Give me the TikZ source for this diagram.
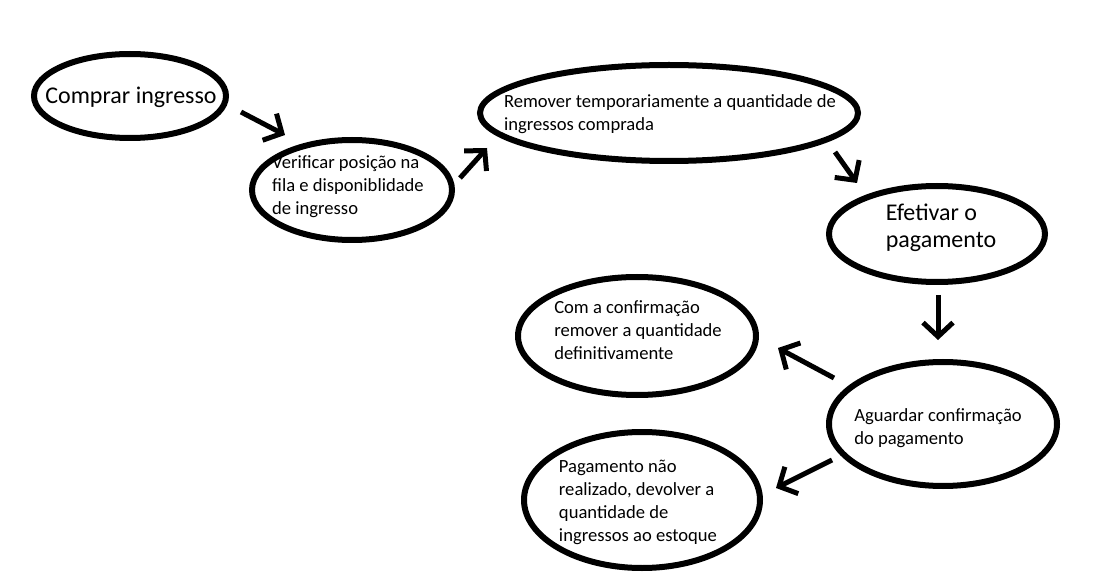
\documentclass[tikz,border=0pt]{standalone}
\usepackage{fontspec}
\setmainfont{Carlito}
\usetikzlibrary{shapes,arrows.meta,positioning,calc}

\begin{document}
\begin{tikzpicture}[x=1pt,y=-1pt,
        etapa/.style={draw, ellipse, line width=6pt, inner sep=0pt},
        texto/.style={align=left, inner sep=0pt, font=\fontsize{18.6}{23}\selectfont},
        grande/.style={align=left, inner sep=0pt, font=\fontsize{24}{27}\selectfont},
        seta/.style={line width=5pt, -{Straight Barb[length=14pt,width=30pt]}}]
        \useasboundingbox (0,0) rectangle (1104,588);

        % Etapas
        \node[etapa, minimum width=192pt, minimum height=84pt] (comprar) at (130,96) {};
        \node[grande] (comprar-t) at (131,97) {Comprar ingresso};

        \node[etapa, minimum width=200pt, minimum height=100pt] (verificar) at (352,190) {};
        \node[texto] (verificar-t) at (348,187) {Verificar posição na\\fila e disponiblidade\\de ingresso};

        \node[etapa, minimum width=378pt, minimum height=96pt] (remover) at (669,113) {};
        \node[texto] (remover-t) at (670,114) {Remover temporariamente a quantidade de\\ingressos comprada};

        \node[etapa, minimum width=216pt, minimum height=96pt] (efetivar) at (937,234) {};
        \node[grande] (efetivar-t) at (941,228) {Efetivar o\\pagamento};

        \node[etapa, minimum width=238pt, minimum height=118pt] (confirmado) at (637,336) {};
        \node[texto] (confirmado-t) at (638,330) {Com a confirmação\\remover a quantidade\\definitivamente};

        \node[etapa, minimum width=228pt, minimum height=124pt] (aguardar) at (943,424) {};
        \node[texto] (aguardar-t) at (938,428) {Aguardar confirmação\\do pagamento};

        \node[etapa, minimum width=236pt, minimum height=136pt] (recusado) at (642,500) {};
        \node[texto] (recusado-t) at (638,502) {Pagamento não\\realizado, devolver a\\quantidade de\\ingressos ao estoque};

        % Setas
        \draw[seta] ([shift={(12,16)}]comprar.east) -- ([shift={(-67,-2)}]verificar.north);
        \draw[seta] ([shift={(5,-12)}]verificar.east) -- ([shift={(10,35)}]remover.west);
        \draw[seta] ([shift={(-26,39)}]remover.east) -- ([shift={(-80,0)}]efetivar.north);
        \draw[seta] ([shift={(1,10)}]efetivar.south) -- ([shift={(-5,-19)}]aguardar.north);
        \draw[seta] ([shift={(8,-46)}]aguardar.west) -- ([shift={(19,12)}]confirmado.east);
        \draw[seta] ([shift={(6,36)}]aguardar.west) -- ([shift={(13,-12)}]recusado.east);
\end{tikzpicture}
\end{document}
